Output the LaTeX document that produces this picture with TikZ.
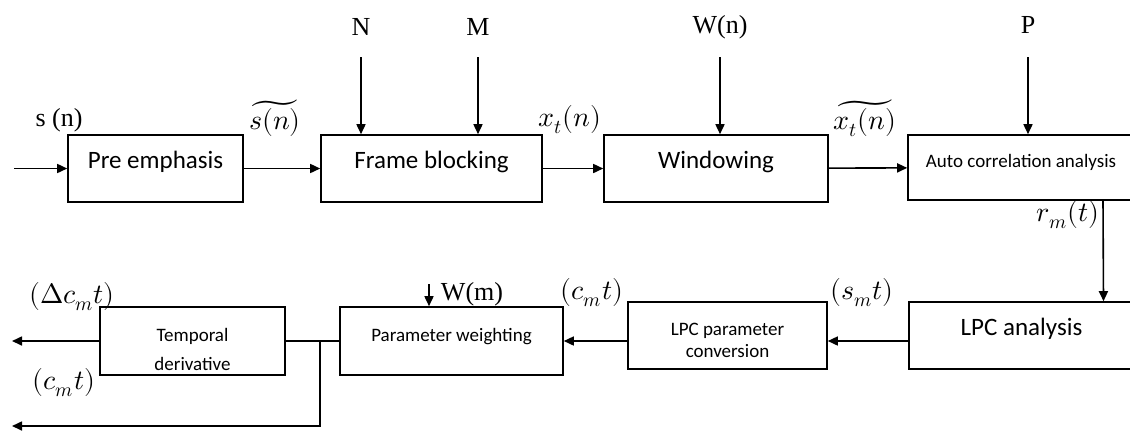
\documentclass[tikz,border=0pt]{standalone}
\usepackage{fontspec}
\usepackage{unicode-math}
\setmainfont{Liberation Serif}
\setmathfont{Latin Modern Math}
\newfontfamily\boxfont{Carlito}
\usetikzlibrary{arrows.meta}

\begin{document}
\begin{tikzpicture}[x=0.5pt, y=-0.5pt,
  blk/.style={draw, line width=0.8pt, rectangle, minimum height=33.5pt,
    text height=6pt, text depth=6pt, align=center,
    font=\boxfont\fontsize{12.5}{14}\selectfont},
  blksmall/.style={blk, font=\boxfont\fontsize{9.5}{11}\selectfont},
  twoline/.style={text height=#1, text depth=0pt, inner ysep=1pt},
  sig/.style={font=\fontsize{14}{16}\selectfont},
  parm/.style={font=\fontsize{13}{15}\selectfont},
  arr/.style={line width=0.8pt, -{Triangle[length=5pt, width=4.5pt]}},
  wire/.style={line width=0.8pt}]
  \useasboundingbox (0,0) rectangle (1130,430);
  \clip (0,0) rectangle (1130,430);

  % top row
  \node[blk, minimum width=87.5pt] (pre) at (155.5,168.5) {Pre emphasis};
  \node[blk, minimum width=110.5pt] (frame) at (431.5,168.5) {Frame blocking};
  \node[blk, minimum width=112pt] (win) at (716,168.5) {Windowing};
  \node[blksmall, minimum width=113pt, minimum height=32.5pt] (auto) at (1021,167.5) {Auto correlation analysis};

  % bottom row
  \node[blk, minimum width=112.5pt] (lpc) at (1021.5,335.5) {LPC analysis};
  \node[blksmall, twoline=22pt, minimum width=99.5pt] (conv) at (727.5,335.5) {LPC parameter\\conversion};
  \node[blksmall, minimum width=111.5pt, minimum height=34pt] (weight) at (451.5,341) {Parameter weighting};
  \node[blksmall, twoline=29pt, minimum width=92.5pt, minimum height=34pt] (temp) at (192.5,341) {Temporal\\[3.5pt]derivative};

  % parameters
  \node[parm] (N) at (361,27) {N};
  \node[parm] (M) at (478,27) {M};
  \node[parm] (Wn) at (720,27) {W(n)};
  \node[parm] (P) at (1028,25) {P};
  \node[parm] (Wm) at (472,294) {W(m)};

  % signals
  \node[parm] (sn) at (59,120) {s (n)};
  \node[sig] (sn2) at (275,118) {$\widetilde{s(n)}$};
  \node[sig] (xt) at (570,120) {$x_t(n)$};
  \node[sig] (xt2) at (865,118) {$\widetilde{x_t(n)}$};
  \node[sig] (rm) at (1068,215) {$r_m(t)$};
  \node[sig] (smt) at (862,293) {$(s_m t)$};
  \node[sig] (cmt) at (592,293) {$(c_m t)$};
  \node[sig] (dcmt) at (72,297) {$(\Delta c_m t)$};
  \node[sig] (cmt2) at (64,383) {$(c_m t)$};

  \coordinate (sin) at (14,168.5);
  \coordinate (outA) at (12,341);
  \coordinate (outB) at (12,426);

  \draw[arr] (sin) -- (pre.west);
  \draw[arr] (pre) -- (frame);
  \draw[arr] (frame) -- (win);
  \draw[arr] (win) -- (auto);
  \draw[arr] (N) ++(0,30) -- (N |- frame.north);
  \draw[arr] (M) ++(0,30) -- (M |- frame.north);
  \draw[arr] (Wn) ++(0,30) -- (Wn |- win.north);
  \draw[arr] (P) ++(0,32) -- (P |- auto.north);
  \draw[arr] ([xshift=41pt]auto.south) -- ([xshift=41pt]lpc.north);
  \draw[arr] (lpc.west |- weight.east) -- (conv.east |- weight.east);
  \draw[arr] (conv.west |- weight.east) -- (weight.east);
  \draw[arr] ([xshift=-11.25pt]weight.north) ++(0,-22) -- ([xshift=-11.25pt]weight.north);
  \draw[wire] (weight.west) -- (temp.east) coordinate[pos=0.36] (br);
  \draw[arr] (temp.west) -- (outA);
  \draw[arr] (br) -- (br |- outB) -- (outB);
\end{tikzpicture}
\end{document}
